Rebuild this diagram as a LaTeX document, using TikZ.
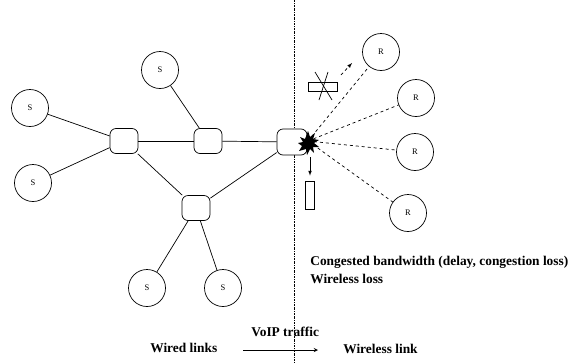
\documentclass[tikz,border=0pt]{standalone}
\usepackage{fontspec}
\setmainfont{Liberation Serif}
\usepackage{tikz}
\usetikzlibrary{shapes.geometric, positioning, arrows, calc}

\begin{document}
\begin{tikzpicture}[x=1pt,y=-1pt,line width=0.7pt,
    host/.style={draw,circle,minimum size=37pt,inner sep=0pt,font=\fontsize{8.5}{10}\selectfont},
    router/.style={draw,fill=white,rounded corners=6pt,minimum width=28pt,minimum height=25pt,inner sep=0pt},
    label/.style={font=\fontsize{13.4}{16}\selectfont\bfseries,inner sep=0pt}]

    \useasboundingbox (0,0) rectangle (569,362);

    % Border
    \coordinate (top) at (294,0);
    \coordinate (bot) at (294,362);
    \draw[line width=0.5pt,dash pattern=on 2pt off 1pt on 0.6pt off 1pt] (top) -- (bot);

    % Routers
    \node[router] (r1) at (124,141) {};
    \node[router] (r2) at (208,141) {};
    \node[router,minimum width=30pt,minimum height=26pt] (r3) at (292,142) {};
    \node[router] (r4) at (196,208) {};

    % Senders
    \node[host] (s1) at (30,108) {S};
    \node[host] (s2) at (33,183) {S};
    \node[host] (s3) at (160,70) {S};
    \node[host] (s4) at (147,288) {S};
    \node[host] (s5) at (223,288) {S};

    % Receivers
    \node[host] (d1) at (381,52) {R};
    \node[host] (d2) at (416,98) {R};
    \node[host] (d3) at (415,152) {R};
    \node[host] (d4) at (408,213) {R};

    % Wired links
    \draw (s1) -- (r1);
    \draw (s2) -- (r1);
    \draw (s3) -- (r2);
    \draw (r1) -- (r2);
    \draw (r2) -- (r3);
    \draw (r1) -- (r4);
    \draw (r3) -- (r4);
    \draw (r4) -- (s4);
    \draw (r4) -- (s5);

    % Wireless links
    \coordinate (burst) at (308,141);
    \foreach \d in {d1,d2,d3,d4}
        \draw[dashed] (burst) -- (\d);
    % Collision
    \fill[black] (burst) ++(0,-10) -- ++(2,6) -- ++(5,-4) -- ++(-2,6) -- ++(6,1)
        -- ++(-5,3) -- ++(5,4) -- ++(-6,0) -- ++(1,6) -- ++(-4,-4) -- ++(-3,6)
        -- ++(-1,-6) -- ++(-7,2) -- ++(3,-5) -- ++(-4,-3) -- ++(5,-1) -- ++(-3,-5)
        -- ++(5,2) -- cycle;

    % Lost packet
    \node[draw,minimum width=29pt,minimum height=9pt,inner sep=0pt] (lost) at (323,87) {};
    \coordinate (x1) at (315,72);
    \coordinate (x2) at (332,100);
    \coordinate (x3) at (328,72);
    \coordinate (x4) at (319,100);
    \draw (x1) -- (x2);
    \draw (x3) -- (x4);
    \coordinate (go1) at (341,75);
    \coordinate (go2) at (352,63);
    \draw[dashed,-latex] (go1) -- (go2);

    % Delayed packet
    \node[draw,minimum width=9pt,minimum height=28pt,inner sep=0pt] (late) at (310,195) {};
    \coordinate (dn) at (310,157);
    \draw[-latex] (dn) -- ($(late.north)+(0,-5)$);

    % Labels
    \node[label,anchor=west] (cong) at (310,262) {Congested bandwidth (delay, congestion loss)};
    \node[label,anchor=west] (wloss) at (310,279) {Wireless loss};
    \node[label,anchor=west] (wired) at (150,348) {Wired links};
    \node[label,anchor=west] (wless) at (343,349) {Wireless link};
    \node[label,anchor=west] (voip) at (251,332) {VoIP traffic};
    \coordinate (a1) at (243,350);
    \coordinate (a2) at (318,350);
    \draw[-stealth,line width=0.9pt] (a1) -- (a2);
\end{tikzpicture}
\end{document}
